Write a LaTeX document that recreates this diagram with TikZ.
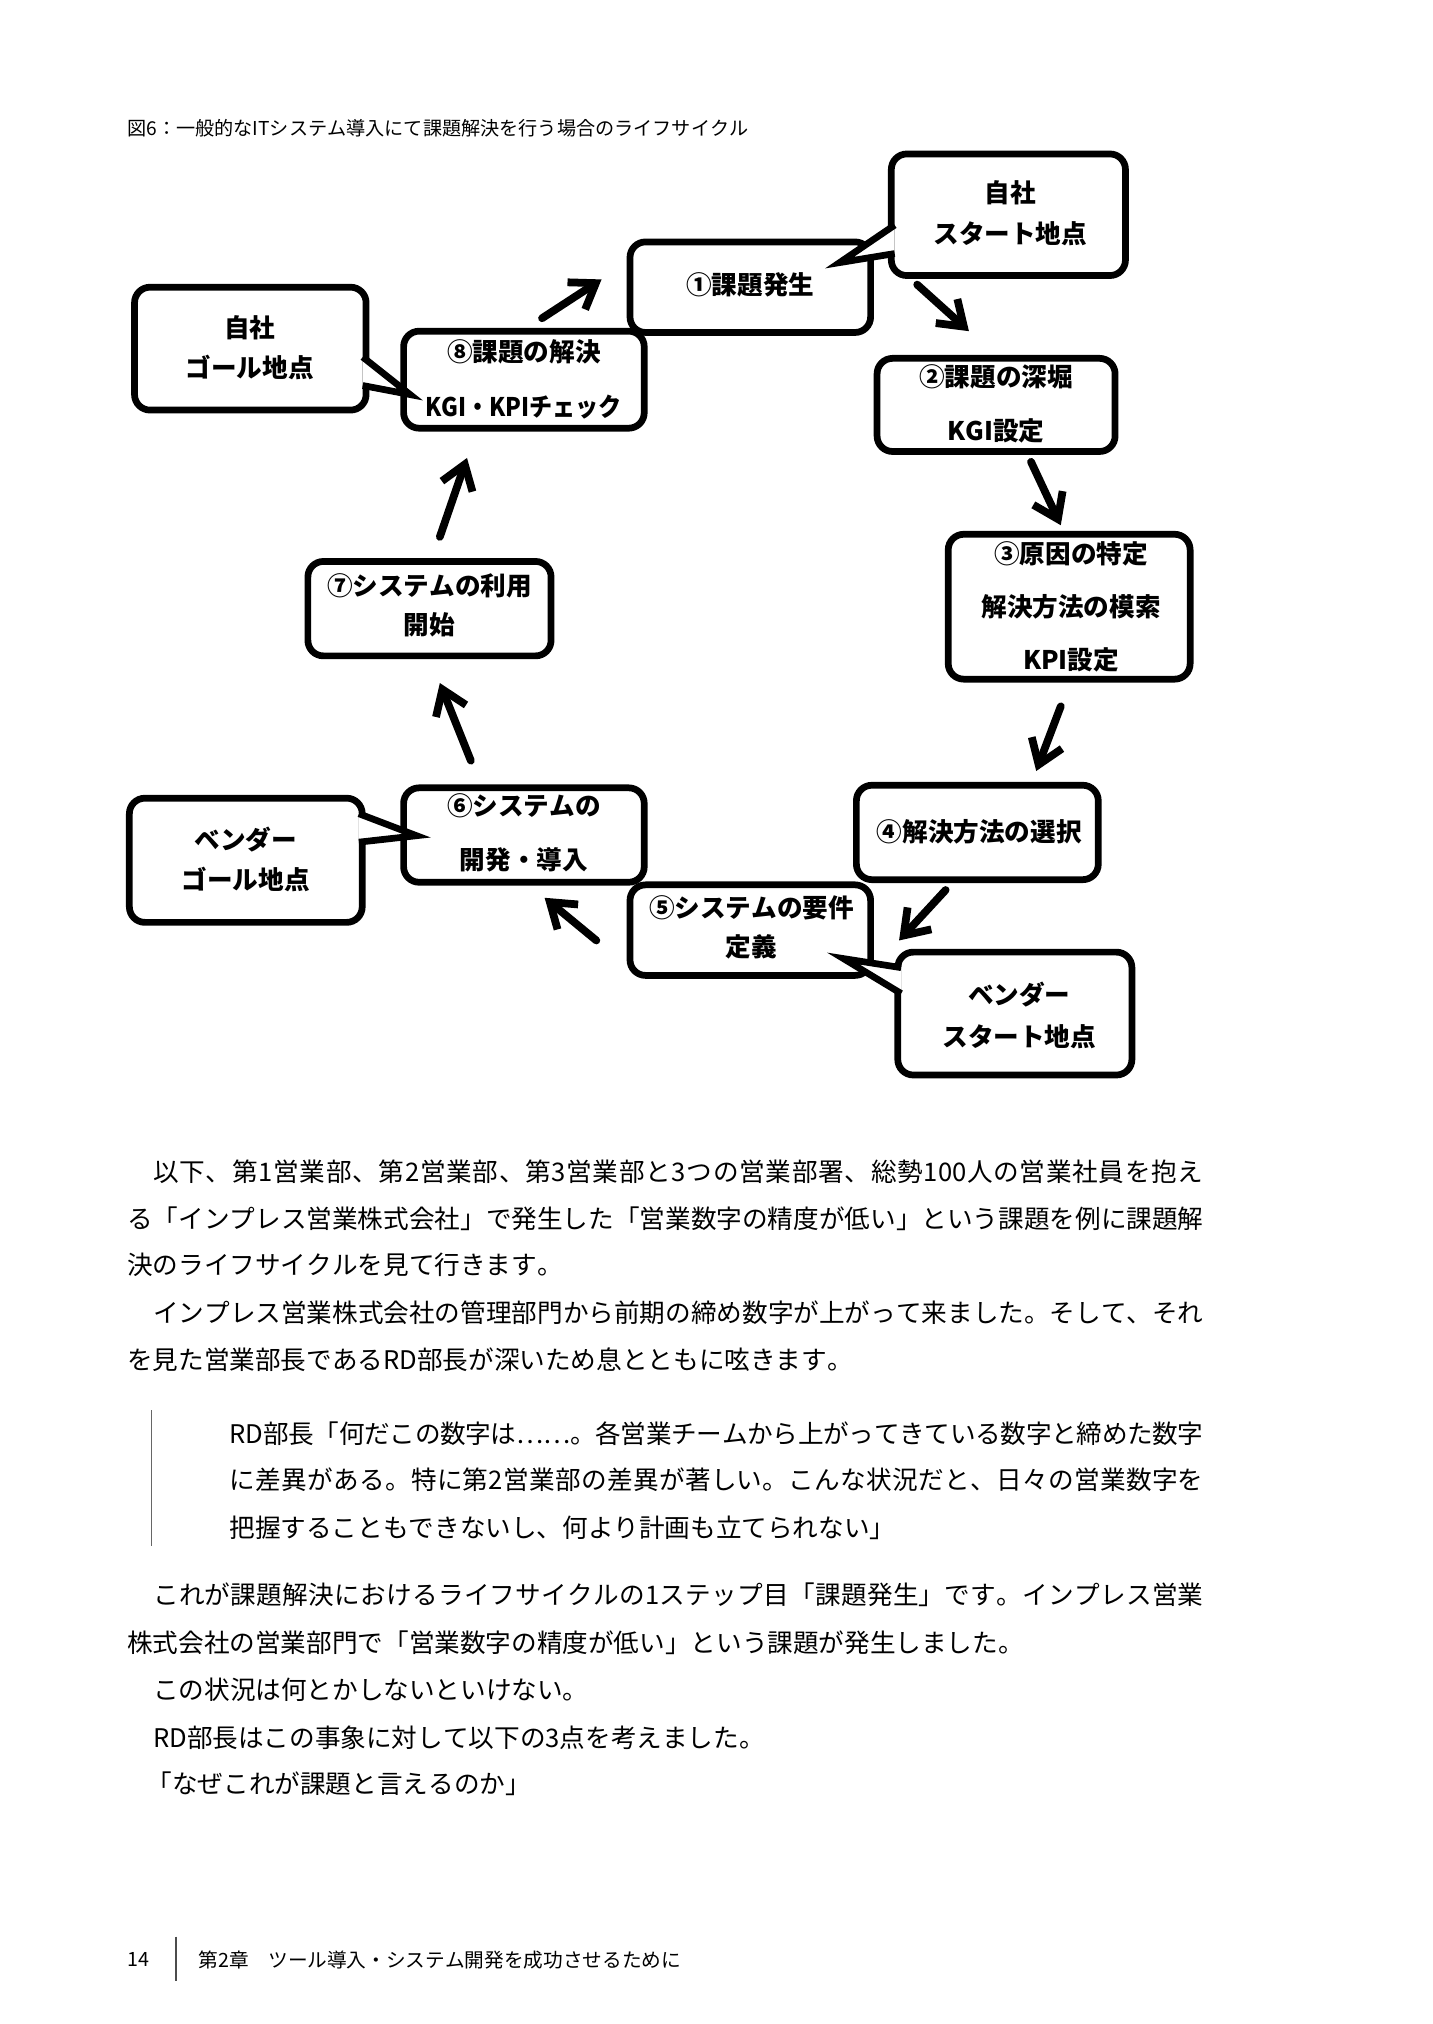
\documentclass[tikz,border=0pt]{standalone}
\usepackage{fontspec}
\newfontfamily\jp{Noto Sans CJK JP}
\usetikzlibrary{arrows.meta}
\XeTeXinterchartokenstate=1
\newcount\jcc
\jcc="3000 \loop \XeTeXcharclass\jcc=1 \advance\jcc by 1 \ifnum\jcc<"3100 \repeat
\jcc="4E00 \loop \XeTeXcharclass\jcc=1 \advance\jcc by 1 \ifnum\jcc<"A000 \repeat
\jcc="FF00 \loop \XeTeXcharclass\jcc=1 \advance\jcc by 1 \ifnum\jcc<"FFF0 \repeat
\def\jg{\hskip 0pt plus 0.3em minus 0.06em\relax}
\XeTeXinterchartoks 0 1 = {\jg}
\XeTeXinterchartoks 1 0 = {\jg}
\XeTeXinterchartoks 1 1 = {\jg}
\newcommand\jline[2]{\makebox[#1][s]{#2}}
\begin{document}
\begin{tikzpicture}[x=0.5pt,y=-0.5pt,
  box/.style={draw, line width=2.6pt, rounded corners=6pt, fill=white, inner sep=0pt},
  lbl/.style={font=\jp\bfseries\fontsize{9.9pt}{11pt}\selectfont, inner sep=0pt},
  body/.style={font=\jp\fontsize{9.9pt}{12pt}\selectfont, anchor=west, inner sep=0pt},
  captext/.style={font=\jp\fontsize{7.4pt}{9pt}\selectfont, anchor=west, inner sep=0pt},
  foot/.style={font=\jp\fontsize{7.6pt}{9pt}\selectfont, anchor=west, inner sep=0pt},
  flow/.style={line width=3pt, line cap=round, -{Straight Barb[length=9pt,width=12.5pt]}},
  tailline/.style={line width=2.6pt, line join=miter}]
\useasboundingbox[fill=white] (0,0) rectangle (1107.7,1564.6);

% caption
\node[captext] (capt) at (98,99) {図6：一般的なITシステム導入にて課題解決を行う場合のライフサイクル};

% boxes
\node[box, minimum width=93pt, minimum height=35pt] (b1) at (580,222) {};
\node[box, minimum width=92pt, minimum height=36pt] (b2) at (770,313) {};
\node[box, minimum width=93.5pt, minimum height=56pt] (b3) at (826.5,469) {};
\node[box, minimum width=93.5pt, minimum height=36.5pt] (b4) at (755.5,643.5) {};
\node[box, minimum width=93pt, minimum height=36.5pt] (b6) at (405,645.5) {};
\node[box, minimum width=93pt, minimum height=35pt] (b5) at (580,719) {};
\node[box, minimum width=94pt, minimum height=36.5pt] (b7) at (332,470.5) {};
\node[box, minimum width=93pt, minimum height=37.5pt] (b8) at (405,293.5) {};
% callouts
\node[box, minimum width=90.5pt, minimum height=47pt] (ca) at (779.5,166) {};
\node[box, minimum width=90.5pt, minimum height=47.5pt] (cb) at (784.5,783.5) {};
\node[box, minimum width=90pt, minimum height=48pt] (cc) at (190,665) {};
\node[box, minimum width=89.5pt, minimum height=47.5pt] (cd) at (193.5,269.5) {};

% callout tails
\fill[white] (691.6,174) -- (649,203) -- (691.6,196) -- cycle;
\draw[tailline] (691.6,174) -- (649,203) -- (691.6,196);
\fill[white] (696.6,748) -- (652,741) -- (696.6,768) -- cycle;
\draw[tailline] (696.6,748) -- (652,741) -- (696.6,768);
\fill[white] (277.4,629) -- (322,646) -- (277.4,651) -- cycle;
\draw[tailline] (277.4,629) -- (322,646) -- (277.4,651);
\fill[white] (280.4,276) -- (317,305) -- (280.4,298) -- cycle;
\draw[tailline] (280.4,276) -- (317,305) -- (280.4,298);

% labels
\node[lbl] (t1) at (580,220) {①課題発生};
\node[lbl] (ta1) at (781,149) {自社};
\node[lbl] (ta2) at (781,181) {スタート地点};
\node[lbl] (t2a) at (770,291) {②課題の深堀};
\node[lbl] (t2b) at (770,333) {KGI設定};
\node[lbl] (t3a) at (828,428) {③原因の特定};
\node[lbl] (t3b) at (828,469) {解決方法の模索};
\node[lbl] (t3c) at (828,510) {KPI設定};
\node[lbl] (t4) at (757,643) {④解決方法の選択};
\node[lbl] (t5a) at (581,702) {⑤システムの要件};
\node[lbl] (t5b) at (581,732) {定義};
\node[lbl] (tb1) at (788,769) {ベンダー};
\node[lbl] (tb2) at (788,801) {スタート地点};
\node[lbl] (t6a) at (405,623) {⑥システムの};
\node[lbl] (t6b) at (405,665) {開発・導入};
\node[lbl] (tc1) at (190,649) {ベンダー};
\node[lbl] (tc2) at (190,680) {ゴール地点};
\node[lbl] (td1) at (193,253) {自社};
\node[lbl] (td2) at (193,284) {ゴール地点};
\node[lbl] (t8a) at (405,272) {⑧課題の解決};
\node[lbl] (t8b) at (405,315) {\scalebox{0.9}[1]{KGI・KPIチェック}};
\node[lbl] (t7a) at (332,453) {⑦システムの利用};
\node[lbl] (t7b) at (332,483) {開始};

% arrow end points
\coordinate (a81s) at (419,246); \coordinate (a81e) at (465,216);
\coordinate (a12s) at (709,220); \coordinate (a12e) at (749,256);
\coordinate (a23s) at (797,357); \coordinate (a23e) at (820,406);
\coordinate (a34s) at (820,546); \coordinate (a34e) at (801,596);
\coordinate (a45s) at (731,688); \coordinate (a45e) at (695,727);
\coordinate (a56s) at (461,727); \coordinate (a56e) at (421,694);
\coordinate (a67s) at (364,588); \coordinate (a67e) at (340,528);
\coordinate (a78s) at (340,415); \coordinate (a78e) at (361,354);
\draw[flow] (a81s) -- (a81e);
\draw[flow] (a12s) -- (a12e);
\draw[flow] (a23s) -- (a23e);
\draw[flow] (a34s) -- (a34e);
\draw[flow] (a45s) -- (a45e);
\draw[flow] (a56s) -- (a56e);
\draw[flow] (a67s) -- (a67e);
\draw[flow] (a78s) -- (a78e);

% body text
\node[body] (l1) at (118,906) {\jline{406pt}{以下、第1営業部、第2営業部、第3営業部と3つの営業部署、総勢100人の営業社員を抱え}};
\node[body] (l2) at (98,942) {\jline{416pt}{る「インプレス営業株式会社」で発生した「営業数字の精度が低い」という課題を例に課題解}};
\node[body] (l3) at (98,978) {決のライフサイクルを見て行きます。};
\node[body] (l4) at (118,1015) {\jline{406pt}{インプレス営業株式会社の管理部門から前期の締め数字が上がって来ました。そして、それ}};
\node[body] (l5) at (98,1051) {を見た営業部長であるRD部長が深いため息とともに呟きます。};
\coordinate (qbt) at (117,1090); \coordinate (qbb) at (117,1195);
\draw[black!60, line width=0.6pt] (qbt) -- (qbb);
\node[body] (q1) at (177,1108) {\jline{376.5pt}{RD部長「何だこの数字は……。各営業チームから上がってきている数字と締めた数字}};
\node[body] (q2) at (177,1144) {\jline{376.5pt}{に差異がある。特に第2営業部の差異が著しい。こんな状況だと、日々の営業数字を}};
\node[body] (q3) at (177,1181) {把握することもできないし、何より計画も立てられない」};
\node[body] (p1) at (118,1233) {\jline{406pt}{これが課題解決におけるライフサイクルの1ステップ目「課題発生」です。インプレス営業}};
\node[body] (p2) at (98,1270) {株式会社の営業部門で「営業数字の精度が低い」という課題が発生しました。};
\node[body] (p3) at (118,1306) {この状況は何とかしないといけない。};
\node[body] (p4) at (118,1343) {RD部長はこの事象に対して以下の3点を考えました。};
\node[body] (p5) at (113,1379) {「なぜこれが課題と言えるのか」};

% footer
\node[foot] (pg) at (98,1515) {14};
\coordinate (fbt) at (136,1497); \coordinate (fbb) at (136,1531);
\draw[black!70, line width=0.5pt] (fbt) -- (fbb);
\node[foot] (ft) at (153,1515) {第2章　ツール導入・システム開発を成功させるために};
\end{tikzpicture}
\end{document}
